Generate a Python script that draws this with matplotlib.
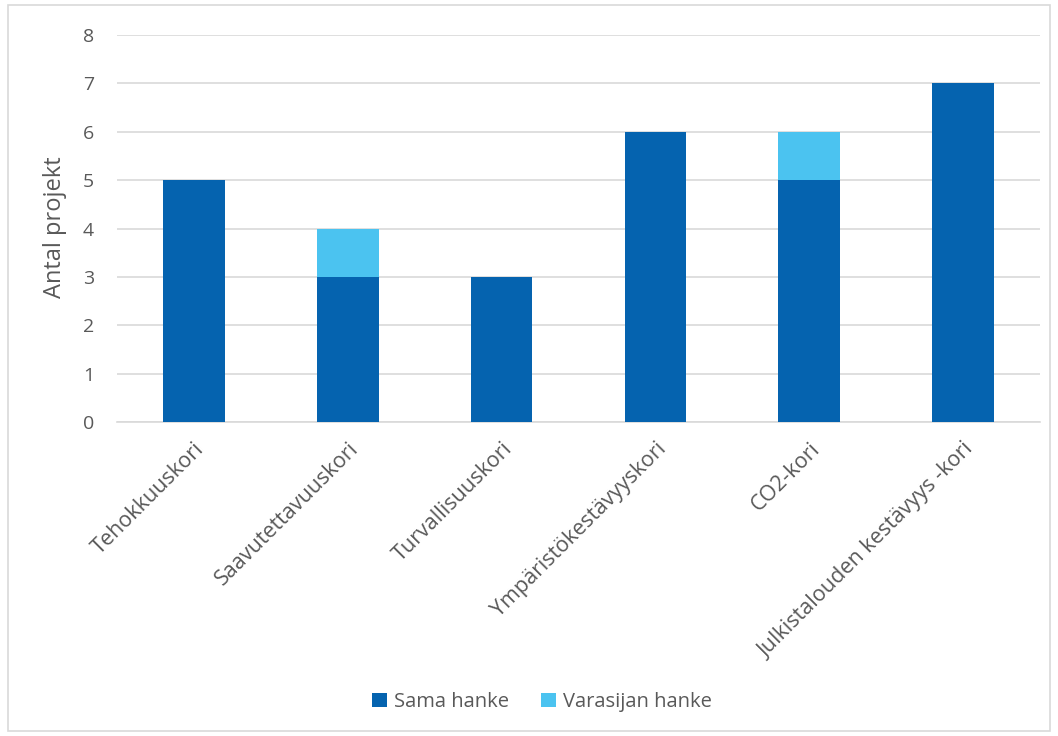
import matplotlib
matplotlib.use("Agg")
import matplotlib.pyplot as plt
from matplotlib.patches import Rectangle
import numpy as np

categories = ["Tehokkuuskori", "Saavutettavuuskori", "Turvallisuuskori",
              "Ympäristökestävyyskori", "CO2-kori", "Julkistalouden kestävyys -kori"]
sama_hanke = [5, 3, 3, 6, 5, 7]
varasijan_hanke = [0, 1, 0, 0, 1, 0]
series_names = ["Sama hanke", "Varasijan hanke"]
y_ticks = [0, 1, 2, 3, 4, 5, 6, 7, 8]

dark_blue = "#0563AF"
light_blue = "#4BC3F0"
text_gray = "#595959"
grid_gray = "#D9D9D9"

plt.rcParams["font.family"] = ["Open Sans", "DejaVu Sans"]

fig = plt.figure(figsize=(10.58, 7.36), dpi=100)
ax = fig.add_axes([117 / 1058, 1 - 422 / 736, (1040 - 117) / 1058, (422 - 35) / 736])

x = np.arange(len(categories))
ax.bar(x, sama_hanke, width=0.4, color=dark_blue, label=series_names[0], zorder=3)
ax.bar(x, varasijan_hanke, width=0.4, bottom=sama_hanke, color=light_blue,
       label=series_names[1], zorder=3)

ax.set_xlim(-0.5, len(categories) - 0.5)
ax.set_ylim(0, 8)
ax.set_yticks(y_ticks)
ax.set_yticklabels([str(t) for t in y_ticks], fontsize=14, color=text_gray)
ax.set_xticks(x)
ax.set_xticklabels(categories, rotation=45, ha="right", rotation_mode="anchor",
                   fontsize=15.5, color=text_gray)
ax.tick_params(axis="both", length=0)
ax.tick_params(axis="y", pad=16.5)
ax.tick_params(axis="x", pad=12)
ax.yaxis.grid(True, color=grid_gray, linewidth=1.2, zorder=0)
for side in ["top", "right", "left"]:
    ax.spines[side].set_visible(False)
ax.spines["bottom"].set_color(grid_gray)
ax.spines["bottom"].set_linewidth(1.2)

ax.set_ylabel("Antal projekt", fontsize=17, color=text_gray)
ax.yaxis.set_label_coords((67 - 117) / 923, (422 - 227) / 387)

fig.legend(loc="center", bbox_to_anchor=(542 / 1058, 1 - 702 / 736), ncol=2,
           frameon=False, fontsize=14.5, handlelength=0.75, handleheight=0.75,
           handletextpad=0.35, columnspacing=1.6, labelcolor=text_gray)

fig.patches.append(Rectangle((8 / 1058, 5 / 736), (1050 - 8) / 1058, (731 - 5) / 736,
                             transform=fig.transFigure, fill=False,
                             edgecolor="#D9D9D9", linewidth=1.2))

fig.savefig("out.png", dpi=100)
